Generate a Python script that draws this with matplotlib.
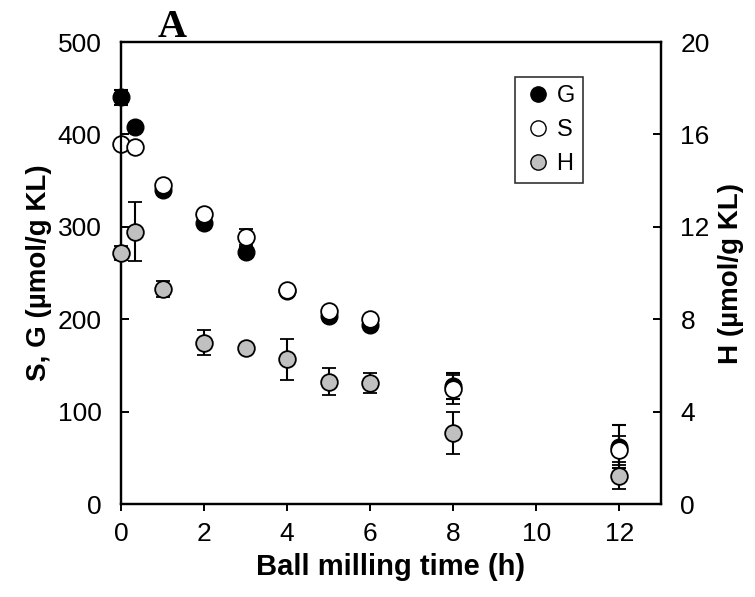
import matplotlib
matplotlib.use("Agg")
import matplotlib.pyplot as plt
from matplotlib.lines import Line2D

plt.rcParams['font.family'] = ['Liberation Sans', 'DejaVu Sans']

time_h = [0, 0.33, 1, 2, 3, 4, 5, 6, 8, 12]
G_vals = [440, 408, 340, 304, 273, 231, 203, 194, 128, 62]
G_err = [8, 4, 5, 4, 5, 3, 4, 5, 14, 23]
S_vals = [390, 386, 345, 314, 289, 232, 209, 200, 124, 58]
S_err = [4, 3, 4, 3, 9, 3, 3, 3, 16, 16]
H_vals = [10.86, 11.79, 9.29, 6.98, 6.77, 6.26, 5.29, 5.25, 3.09, 1.22]
H_err = [0.3, 1.28, 0.35, 0.54, 0.1, 0.9, 0.58, 0.43, 0.91, 0.59]

fig = plt.figure(figsize=(7.55, 5.97), dpi=100)
ax = fig.add_axes([121/755, 93/597, 540/755, 462/597])
ax2 = ax.twinx()

ms = 12
ekw = dict(ecolor='black', elinewidth=1.5, capsize=5, capthick=1.5, linestyle='none')
for c in ax.errorbar(time_h, G_vals, yerr=G_err, marker='o', ms=ms, mfc='black', mec='black', zorder=3, **ekw).get_children():
    c.set_clip_on(False)
for c in ax.errorbar(time_h, S_vals, yerr=S_err, marker='o', ms=ms, mfc='white', mec='black', mew=1.3, zorder=4, **ekw).get_children():
    c.set_clip_on(False)
for c in ax2.errorbar(time_h, H_vals, yerr=H_err, marker='o', ms=ms, mfc='#c0c0c0', mec='black', mew=1.3, zorder=5, **ekw).get_children():
    c.set_clip_on(False)

ax.set_xlim(0, 13)
ax.set_ylim(0, 500)
ax2.set_ylim(0, 20)
ax.set_xticks([0, 2, 4, 6, 8, 10, 12])
ax.set_yticks([0, 100, 200, 300, 400, 500])
ax2.set_yticks([0, 4, 8, 12, 16, 20])

for a in (ax, ax2):
    for s in a.spines.values():
        s.set_linewidth(1.6)
ax.tick_params(axis='x', direction='out', length=5, width=1.4, labelsize=19, pad=8)
ax.tick_params(axis='y', direction='in', length=6, width=1.4, labelsize=19, pad=14)
ax2.tick_params(axis='y', direction='in', length=6, width=1.4, labelsize=19, pad=14)

ax.set_xlabel('Ball milling time (h)', fontsize=21, fontweight='bold', labelpad=5)
ax.set_ylabel('S, G (µmol/g KL)', fontsize=20, fontweight='bold', labelpad=4)
ax2.set_ylabel('H (µmol/g KL)', fontsize=20, fontweight='bold', labelpad=6)

ax.text(1.23, 505, 'A', fontsize=29, fontweight='bold', family=['Liberation Serif', 'DejaVu Serif'],
        va='baseline', ha='center')

handles = [
    Line2D([], [], marker='o', ls='none', ms=11, mfc='black', mec='black'),
    Line2D([], [], marker='o', ls='none', ms=11, mfc='white', mec='black'),
    Line2D([], [], marker='o', ls='none', ms=11, mfc='#c0c0c0', mec='black'),
]
leg = ax.legend(handles, ['G', 'S', 'H'], loc='upper left', bbox_to_anchor=(0.73, 0.924),
                fontsize=17, frameon=True, fancybox=False, edgecolor='black',
                handletextpad=0.2, borderpad=0.35, labelspacing=0.5, handlelength=1.2,
                borderaxespad=0)
leg.get_frame().set_linewidth(1.2)

fig.savefig('out.png', dpi=100)
